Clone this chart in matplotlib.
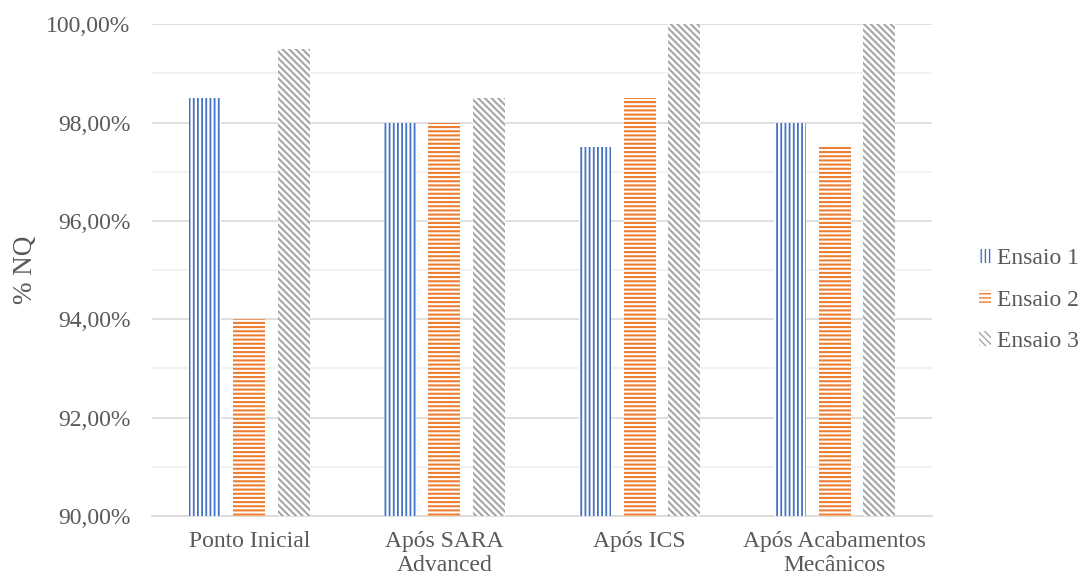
import matplotlib
matplotlib.use("Agg")
import matplotlib.pyplot as plt
from matplotlib.patches import Patch
from matplotlib.ticker import MultipleLocator, FuncFormatter
import numpy as np

categories = ["Ponto Inicial", "Após SARA\nAdvanced", "Após ICS", "Após Acabamentos\nMecânicos"]
series_names = ["Ensaio 1", "Ensaio 2", "Ensaio 3"]
ensaio1 = [98.5, 98.0, 97.5, 98.0]
ensaio2 = [94.0, 98.0, 98.5, 97.5]
ensaio3 = [99.5, 98.5, 100.0, 100.0]

colors = ["#4472C4", "#ED7D31", "#A5A5A5"]
hatches = ["||||", "----", "\\\\\\\\\\"]
hatch_widths = [1.3, 1.5, 1.5]
text_color = "#595959"

plt.rcParams["font.family"] = ["Liberation Serif", "DejaVu Serif"]

fig = plt.figure(figsize=(10.8, 5.77), dpi=100)
ax = fig.add_axes([0.1407, 0.1057, 0.863 - 0.1407, 0.958 - 0.1057])

x = np.arange(len(categories))
offsets = [-0.226, 0.0, 0.226]
width = 0.164
for vals, off, col, h, hw, name in zip([ensaio1, ensaio2, ensaio3], offsets, colors,
                                       hatches, hatch_widths, series_names):
    with plt.rc_context({"hatch.linewidth": hw}):
        bars = ax.bar(x + off, np.array(vals) - 90, bottom=90, width=width, facecolor="white",
                      edgecolor=col, hatch=h, linewidth=0, label=name, zorder=3)
    for b in bars:
        if hasattr(b, "set_hatch_linewidth"):
            b.set_hatch_linewidth(hw)

ax.set_xlim(-0.5, 3.5)
ax.set_ylim(90, 100)
ax.yaxis.set_major_locator(MultipleLocator(2))
ax.yaxis.set_minor_locator(MultipleLocator(1))
ax.yaxis.set_major_formatter(FuncFormatter(lambda v, p: f"{v:.2f}%".replace(".", ",")))
ax.grid(axis="y", which="major", color="#D9D9D9", linewidth=1.2, zorder=0)
ax.grid(axis="y", which="minor", color="#F0F0F0", linewidth=1.2, zorder=0)
ax.set_axisbelow(True)
for s in ["top", "right", "left"]:
    ax.spines[s].set_visible(False)
ax.spines["bottom"].set_color("#D9D9D9")
ax.spines["bottom"].set_linewidth(1.2)

ax.set_xticks(x)
ax.set_xticklabels(categories)
ax.tick_params(axis="both", which="both", length=0, labelsize=17, labelcolor=text_color)
ax.tick_params(axis="x", pad=11)
ax.tick_params(axis="y", pad=15.5)
for lbl in ax.get_xticklabels():
    lbl.set_linespacing(1.2)

ax.set_ylabel("% NQ", fontsize=19.5, color=text_color, labelpad=6)

handles = []
for c, h, hw in zip(colors, hatches, hatch_widths):
    with plt.rc_context({"hatch.linewidth": hw}):
        p = Patch(facecolor="white", edgecolor=c, hatch=h, linewidth=0)
    if hasattr(p, "set_hatch_linewidth"):
        p.set_hatch_linewidth(hw)
    handles.append(p)
fig.legend(handles, series_names, loc="center left", bbox_to_anchor=(0.887, 0.48),
           frameon=False, fontsize=17, labelcolor=text_color, handlelength=0.5,
           handleheight=0.55, handletextpad=0.25, labelspacing=0.86)

fig.savefig("out.png", dpi=100)
